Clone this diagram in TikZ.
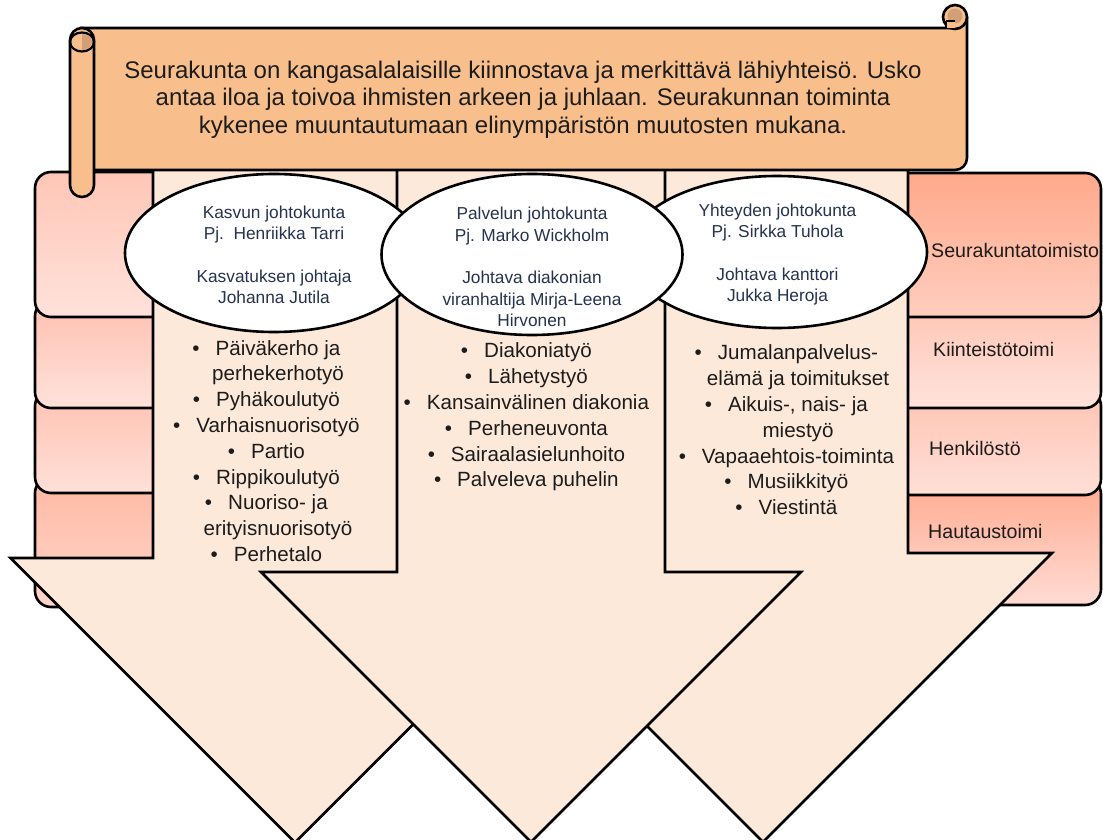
\documentclass[tikz,border=0pt]{standalone}
\usepackage{fontspec}
\setmainfont{Liberation Sans}
\usetikzlibrary{shapes.geometric}
\definecolor{scrollc}{HTML}{F8BF8D}
\definecolor{curlc}{HTML}{D39F76}
\definecolor{arrowc}{HTML}{FDE9DA}
\definecolor{ink}{HTML}{1C1C1C}
\definecolor{ellink}{HTML}{26324E}
\tikzset{
  outl/.style={draw=black, line width=2.6pt, line join=round},
  arrowshape/.style={draw=black, line width=2.6pt, line join=miter, fill=arrowc},
  stackbox/.style={outl, rounded corners=16pt},
  ellip/.style={outl, fill=white, ellipse, inner sep=0pt},
  elltext/.style={align=center, text=ellink, font=\fontsize{17.3}{21.3}\selectfont},
  bullets/.style={align=center, text=ink, font=\fontsize{20.6}{25.8}\selectfont},
  sidelabel/.style={anchor=west, text=ink, inner sep=0pt, font=\fontsize{19.6}{22}\selectfont},
}
\newcommand{\bul}{\llap{\textbullet\hspace{16pt}}}
\begin{document}
\begin{tikzpicture}[x=1pt, y=-1pt]
\useasboundingbox (0,0) rectangle (1103,840);
\clip (0,0) rectangle (1103,840);
% left stack
\path[stackbox, top color={rgb,255:red,255;green,185;blue,163}, bottom color={rgb,255:red,255;green,213;blue,202}] (35,477) rectangle (200,607);
\path[stackbox, top color={rgb,255:red,255;green,194;blue,178}, bottom color={rgb,255:red,255;green,224;blue,216}] (35,390) rectangle (200,493);
\path[stackbox, top color={rgb,255:red,255;green,192;blue,176}, bottom color={rgb,255:red,255;green,226;blue,219}] (35,300) rectangle (200,408);
\path[stackbox, top color={rgb,255:red,255;green,198;blue,182}, bottom color={rgb,255:red,255;green,226;blue,219}] (35,172) rectangle (200,317);
% right stack
\path[stackbox, top color={rgb,255:red,255;green,170;blue,143}, bottom color={rgb,255:red,255;green,220;blue,212}] (860,478) rectangle (1101,605);
\path[stackbox, top color={rgb,255:red,255;green,196;blue,179}, bottom color={rgb,255:red,255;green,223;blue,215}] (860,390) rectangle (1101,495);
\path[stackbox, top color={rgb,255:red,255;green,196;blue,179}, bottom color={rgb,255:red,255;green,227;blue,220}] (860,300) rectangle (1101,408);
\path[stackbox, top color={rgb,255:red,255;green,169;blue,139}, bottom color={rgb,255:red,255;green,206;blue,190}] (860,173) rectangle (1101,317);
\node[sidelabel] (l1) at (931,250) {Seurakuntatoimisto};
\node[sidelabel] (l2) at (933,349) {Kiinteistötoimi};
\node[sidelabel] (l3) at (929,448) {Henkilöstö};
\node[sidelabel] (l4) at (928,531) {Hautaustoimi};
% arrows
\draw[arrowshape] (153,160) -- (437,160) -- (437,558) -- (579.5,558) -- (295,842.5) -- (10.5,558) -- (153,558) -- cycle;
\draw[arrowshape] (618,160) -- (908,160) -- (908,553) -- (1052,553) -- (763,842) -- (474,553) -- (618,553) -- cycle;
\draw[arrowshape] (397,160) -- (665,160) -- (665,572) -- (801,572) -- (531,842) -- (261,572) -- (397,572) -- cycle;
% ellipses
\node[ellip, minimum width=298pt, minimum height=158pt] (e1) at (274,253) {};
\node[ellip, minimum width=300pt, minimum height=152pt] (e3) at (777,252) {};
\node[ellip, minimum width=301pt, minimum height=161pt] (e2) at (532,254.5) {};
\node[elltext] (t1) at (274,255) {Kasvun johtokunta\\Pj.\ \ Henriikka Tarri\\[21.3pt]Kasvatuksen johtaja\\Johanna Jutila};
\node[elltext] (t2) at (532,267) {Palvelun johtokunta\\Pj. Marko Wickholm\\[21.3pt]Johtava diakonian\\viranhaltija Mirja-Leena\\Hirvonen};
\node[elltext] (t3) at (777.5,254.5) {Yhteyden johtokunta\\Pj. Sirkka Tuhola\\[21.3pt]Johtava kanttori\\Jukka Heroja};
% bullet lists
\node[bullets] (b1) at (278,451) {\bul Päiväkerho ja\\perhekerhotyö\\\bul Pyhäkoulutyö\\\bul Varhaisnuorisotyö\\\bul Partio\\\bul Rippikoulutyö\\\bul Nuoriso- ja\\erityisnuorisotyö\\\bul Perhetalo};
\node[bullets] (b2) at (538,417) {\bul Diakoniatyö\\\bul Lähetystyö\\\bul Kansainvälinen diakonia\\\bul Perheneuvonta\\\bul Sairaalasielunhoito\\\bul Palveleva puhelin};
\node[bullets] (b3) at (798,430) {\bul Jumalanpalvelus-\\elämä ja toimitukset\\\bul Aikuis-, nais- ja\\miestyö\\\bul Vapaaehtois-toiminta\\\bul Musiikkityö\\\bul Viestintä};
% scroll body
\draw[outl, fill=scrollc] (80,28) -- (955,28) -- (955,17) -- (967,17) -- (967,100) [rounded corners=12pt] -- (967,170) -- (80,170) [sharp corners] -- cycle;
% right curl
\draw[outl, fill=scrollc] (955,17) circle[radius=12];
\fill[curlc] (955,16) circle[radius=7.5];
\fill[scrollc] (946,21) rectangle (955,28);
\draw[line width=1.2pt] (946,21) -- (946,28);
\draw[line width=1.2pt] (946,21) -- (955,21);
% left roll
\draw[outl, fill=scrollc, rounded corners=12pt] (70,28) rectangle (94,197);
\begin{scope}
\clip (82,30) rectangle (96,56);
\fill[curlc] (82,42) ellipse[x radius=10, y radius=8];
\end{scope}
\draw[line width=2.2pt] (82,42) ellipse[x radius=12, y radius=9.5];
% scroll text
\node[align=center, text=ink, font=\fontsize{24}{27.5}\selectfont] (title) at (523,99.5) {Seurakunta on kangasalalaisille kiinnostava ja merkittävä lähiyhteisö. Usko\\antaa iloa ja toivoa ihmisten arkeen ja juhlaan. Seurakunnan toiminta\\kykenee muuntautumaan elinympäristön muutosten mukana.};
\end{tikzpicture}
\end{document}
